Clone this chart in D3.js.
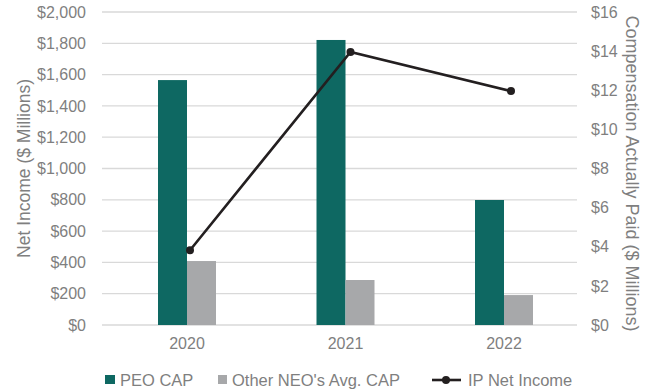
<!DOCTYPE html>
<html>
<head>
<meta charset="utf-8">
<script src="https://cdn.jsdelivr.net/npm/d3@7"></script>
<style>
  html, body { margin: 0; padding: 0; background: #fff; }
  svg { display: block; font-family: "Liberation Sans", Arial, sans-serif; }
</style>
</head>
<body>
<svg id="chart" width="654" height="392"></svg>
<script>
// Fiscal years shown on the category axis
const years = ["2020", "2021", "2022"];
// Compensation actually paid, $ millions (right axis)
const peoCap = [12.52, 14.57, 6.39];
const neoAvgCap = [3.27, 2.30, 1.53];
// IP net income, $ millions (left axis)
const netIncome = [478, 1745, 1495];
// Axis ticks
const leftTicks = [0, 200, 400, 600, 800, 1000, 1200, 1400, 1600, 1800, 2000];
const rightTicks = [0, 2, 4, 6, 8, 10, 12, 14, 16];

const seriesNames = ["PEO CAP", "Other NEO's Avg. CAP"];
const colors = { peo: "#0e6862", neo: "#a7a8aa", line: "#231f20", text: "#7f7f7f", grid: "#d9d9d9" };
const fontFamily = "'Liberation Sans', Arial, sans-serif";

const svg = d3.select("#chart");
const plot = { left: 102, right: 577, top: 12, bottom: 325 };

const yLeft = d3.scaleLinear().domain([0, 2000]).range([plot.bottom, plot.top]);
const yRight = d3.scaleLinear().domain([0, 16]).range([plot.bottom, plot.top]);
const x = d3.scaleBand().domain(years).range([107.75, 583.25]);
const xSub = d3.scaleBand().domain(seriesNames).range([-29, 29]);
const xLine = d3.scalePoint().domain(years).range([190, 511]);

// Gridlines
svg.append("g")
  .selectAll("line")
  .data(leftTicks)
  .join("line")
  .attr("x1", plot.left).attr("x2", plot.right)
  .attr("y1", d => yLeft(d)).attr("y2", d => yLeft(d))
  .attr("stroke", colors.grid).attr("stroke-width", 1.3);

function styleAxisText(g) {
  g.select(".domain").remove();
  g.selectAll("text").attr("fill", colors.text).attr("font-size", 16).attr("font-family", fontFamily);
}

// Left axis
svg.append("g")
  .attr("transform", `translate(${plot.left},0)`)
  .call(d3.axisLeft(yLeft).tickValues(leftTicks).tickSize(0).tickPadding(16)
    .tickFormat(d => "$" + d3.format(",")(d)))
  .call(styleAxisText);

// Right axis
svg.append("g")
  .attr("transform", `translate(${plot.right},0)`)
  .call(d3.axisRight(yRight).tickValues(rightTicks).tickSize(0).tickPadding(14)
    .tickFormat(d => "$" + d))
  .call(styleAxisText);

// Bottom axis labels
svg.append("g")
  .attr("transform", `translate(0,${plot.bottom})`)
  .call(d3.axisBottom(x).tickSize(0).tickPadding(13))
  .call(styleAxisText);

// Axis titles
svg.append("text")
  .attr("transform", `translate(30,${(plot.top + plot.bottom) / 2}) rotate(-90)`)
  .attr("text-anchor", "middle")
  .attr("fill", colors.text).attr("font-size", 17.5)
  .text("Net Income ($ Millions)");
svg.append("text")
  .attr("transform", `translate(626,${(plot.top + plot.bottom) / 2 + 5}) rotate(90)`)
  .attr("text-anchor", "middle")
  .attr("fill", colors.text).attr("font-size", 18)
  .text("Compensation Actually Paid ($ Millions)");

// Bars
const barData = years.flatMap((yr, i) => [
  { year: yr, name: seriesNames[0], value: peoCap[i], color: colors.peo },
  { year: yr, name: seriesNames[1], value: neoAvgCap[i], color: colors.neo }
]);
svg.append("g")
  .selectAll("rect")
  .data(barData)
  .join("rect")
  .attr("x", d => x(d.year) + x.bandwidth() / 2 + xSub(d.name))
  .attr("width", xSub.bandwidth())
  .attr("y", d => yRight(d.value))
  .attr("height", d => yRight(0) - yRight(d.value))
  .attr("fill", d => d.color);

// Net income line
const lineData = years.map((yr, i) => ({ year: yr, value: netIncome[i] }));
svg.append("path")
  .datum(lineData)
  .attr("fill", "none")
  .attr("stroke", colors.line)
  .attr("stroke-width", 2.6)
  .attr("d", d3.line().x(d => xLine(d.year)).y(d => yLeft(d.value)));
svg.append("g")
  .selectAll("circle")
  .data(lineData)
  .join("circle")
  .attr("cx", d => xLine(d.year))
  .attr("cy", d => yLeft(d.value))
  .attr("r", 4)
  .attr("fill", colors.line);

// Legend
const legend = svg.append("g").attr("font-size", 16.5).attr("fill", colors.text);
legend.append("rect").attr("x", 105).attr("y", 375).attr("width", 10).attr("height", 9).attr("fill", colors.peo);
legend.append("text").attr("x", 120).attr("y", 385.5).text("PEO CAP");
legend.append("rect").attr("x", 218).attr("y", 375).attr("width", 9).attr("height", 9).attr("fill", colors.neo);
legend.append("text").attr("x", 232).attr("y", 385.5).text("Other NEO's Avg. CAP");
legend.append("line").attr("x1", 432).attr("x2", 461).attr("y1", 380).attr("y2", 380)
  .attr("stroke", colors.line).attr("stroke-width", 2.6);
legend.append("circle").attr("cx", 446).attr("cy", 380).attr("r", 4).attr("fill", colors.line);
legend.append("text").attr("x", 468).attr("y", 385.5).text("IP Net Income");
</script>
</body>
</html>
